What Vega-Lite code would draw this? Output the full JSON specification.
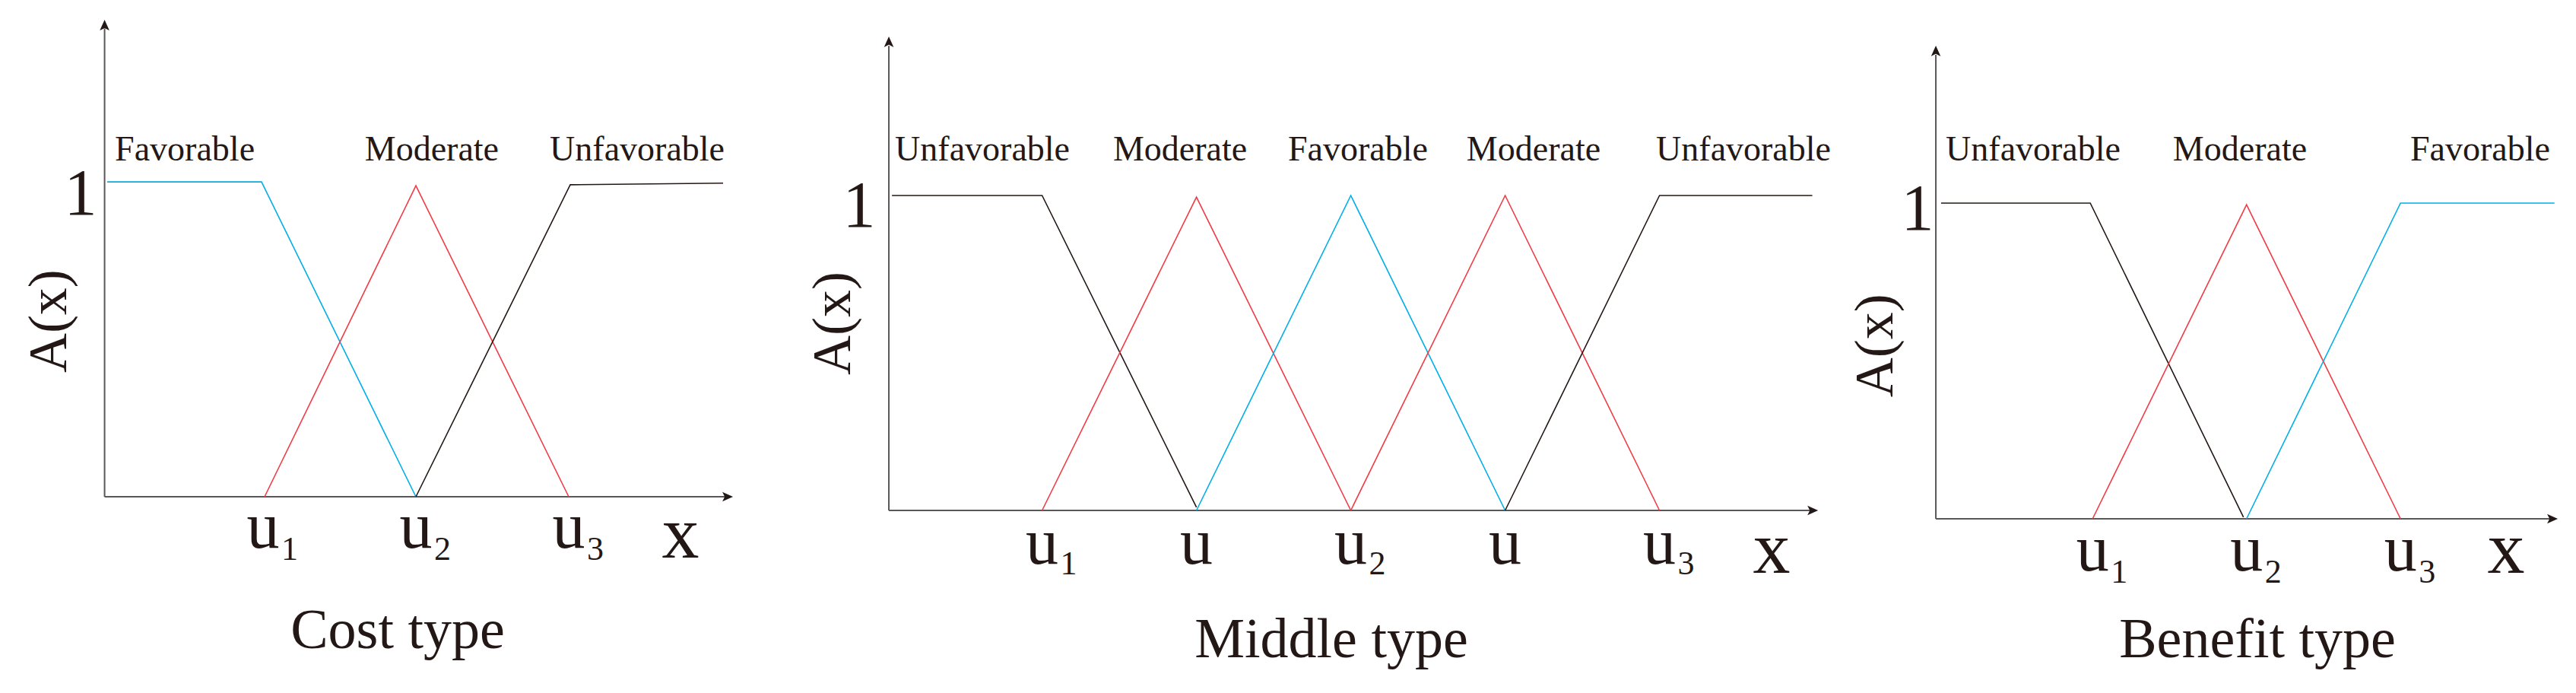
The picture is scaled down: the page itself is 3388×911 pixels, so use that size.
{
  "$schema": "https://vega.github.io/schema/vega-lite/v6.json",
  "padding": 0,
  "spacing": 0,
  "bounds": "flush",
  "background": "white",
  "config": {"view": {"stroke": null}},
  "resolve": {"scale": {"x": "independent", "y": "independent"}},
  "datasets": {
    "ln1": [
      {"id": "f", "type": "Favorable", "k": 1, "x": -0.02, "y": 1.002},
      {"id": "f", "type": "Favorable", "k": 2, "x": 0.99, "y": 1.002},
      {"id": "f", "type": "Favorable", "k": 3, "x": 2.0, "y": 0},
      {"id": "m", "type": "Moderate", "k": 1, "x": 1.01, "y": 0},
      {"id": "m", "type": "Moderate", "k": 2, "x": 2.0, "y": 0.99},
      {"id": "m", "type": "Moderate", "k": 3, "x": 3.0, "y": 0},
      {"id": "u", "type": "Unfavorable", "k": 1, "x": 2.0, "y": 0},
      {"id": "u", "type": "Unfavorable", "k": 2, "x": 3.01, "y": 0.993},
      {"id": "u", "type": "Unfavorable", "k": 3, "x": 4.01, "y": 0.998}
    ],
    "ax1": [
      {"x": -0.037, "y": 0, "x2": -0.037, "y2": 1.49},
      {"x": -0.037, "y": 0, "x2": 4.03, "y2": 0}
    ],
    "ar1": [
      {"dir": "up", "x": -0.037, "y": 1.501},
      {"dir": "right", "x": 4.04, "y": 0}
    ],
    "tx1": [
      {"role": "label", "text": "Favorable", "x": 0.488, "y": 1.07},
      {"role": "label", "text": "Moderate", "x": 2.104, "y": 1.07},
      {"role": "label", "text": "Unfavorable", "x": 3.448, "y": 1.07},
      {"role": "one", "text": "1", "x": -0.194, "y": 0.898},
      {"role": "ylab", "text": "A(x)", "x": -0.398, "y": 0.559},
      {"role": "u", "text": "u", "x": 1, "y": -0.162},
      {"role": "u", "text": "u", "x": 2, "y": -0.162},
      {"role": "u", "text": "u", "x": 3, "y": -0.162},
      {"role": "sub", "text": "1", "x": 1, "y": -0.201},
      {"role": "sub", "text": "2", "x": 2, "y": -0.201},
      {"role": "sub", "text": "3", "x": 3, "y": -0.201},
      {"role": "var", "text": "x", "x": 3.731, "y": -0.194},
      {"role": "title", "text": "Cost type", "x": 1.881, "y": -0.482}
    ],
    "ln2": [
      {"id": "u1", "type": "Unfavorable", "k": 1, "x": 0.027, "y": 1.0},
      {"id": "u1", "type": "Unfavorable", "k": 2, "x": 1.0, "y": 1.0},
      {"id": "u1", "type": "Unfavorable", "k": 3, "x": 2.0, "y": 0.01},
      {"id": "m1", "type": "Moderate", "k": 1, "x": 1.0, "y": 0},
      {"id": "m1", "type": "Moderate", "k": 2, "x": 2.0, "y": 0.995},
      {"id": "m1", "type": "Moderate", "k": 3, "x": 3.0, "y": 0},
      {"id": "f", "type": "Favorable", "k": 1, "x": 2.0, "y": 0},
      {"id": "f", "type": "Favorable", "k": 2, "x": 3.0, "y": 1.0},
      {"id": "f", "type": "Favorable", "k": 3, "x": 4.0, "y": 0},
      {"id": "m2", "type": "Moderate", "k": 1, "x": 3.0, "y": 0},
      {"id": "m2", "type": "Moderate", "k": 2, "x": 4.0, "y": 1.0},
      {"id": "m2", "type": "Moderate", "k": 3, "x": 5.0, "y": 0},
      {"id": "u2", "type": "Unfavorable", "k": 1, "x": 4.0, "y": 0},
      {"id": "u2", "type": "Unfavorable", "k": 2, "x": 5.0, "y": 1.0},
      {"id": "u2", "type": "Unfavorable", "k": 3, "x": 5.99, "y": 1.0}
    ],
    "ax2": [
      {"x": 0.007, "y": 0, "x2": 0.007, "y2": 1.475},
      {"x": 0.007, "y": 0, "x2": 5.98, "y2": 0}
    ],
    "ar2": [
      {"dir": "up", "x": 0.007, "y": 1.488},
      {"dir": "right", "x": 5.993, "y": 0}
    ],
    "tx2": [
      {"role": "label", "text": "Unfavorable", "x": 0.613, "y": 1.111},
      {"role": "label", "text": "Moderate", "x": 1.894, "y": 1.111},
      {"role": "label", "text": "Favorable", "x": 3.046, "y": 1.111},
      {"role": "label", "text": "Moderate", "x": 4.184, "y": 1.111},
      {"role": "label", "text": "Unfavorable", "x": 5.544, "y": 1.111},
      {"role": "one", "text": "1", "x": -0.185, "y": 0.901},
      {"role": "ylab", "text": "A(x)", "x": -0.353, "y": 0.594},
      {"role": "u", "text": "u", "x": 1, "y": -0.169},
      {"role": "u", "text": "u", "x": 2, "y": -0.169},
      {"role": "u", "text": "u", "x": 3, "y": -0.169},
      {"role": "u", "text": "u", "x": 4, "y": -0.169},
      {"role": "u", "text": "u", "x": 5, "y": -0.169},
      {"role": "sub", "text": "1", "x": 1, "y": -0.203},
      {"role": "sub", "text": "2", "x": 3, "y": -0.203},
      {"role": "sub", "text": "3", "x": 5, "y": -0.203},
      {"role": "var", "text": "x", "x": 5.726, "y": -0.198},
      {"role": "title", "text": "Middle type", "x": 2.874, "y": -0.466}
    ],
    "ln3": [
      {"id": "u", "type": "Unfavorable", "k": 1, "x": 0.016, "y": 1.0},
      {"id": "u", "type": "Unfavorable", "k": 2, "x": 0.985, "y": 1.0},
      {"id": "u", "type": "Unfavorable", "k": 3, "x": 1.98, "y": 0.005},
      {"id": "m", "type": "Moderate", "k": 1, "x": 1.0, "y": 0},
      {"id": "m", "type": "Moderate", "k": 2, "x": 2.0, "y": 0.995},
      {"id": "m", "type": "Moderate", "k": 3, "x": 3.0, "y": 0},
      {"id": "f", "type": "Favorable", "k": 1, "x": 2.0, "y": 0},
      {"id": "f", "type": "Favorable", "k": 2, "x": 3.0, "y": 1.0},
      {"id": "f", "type": "Favorable", "k": 3, "x": 4.0, "y": 1.0}
    ],
    "ax3": [
      {"x": -0.018, "y": 0, "x2": -0.018, "y2": 1.47},
      {"x": -0.018, "y": 0, "x2": 3.975, "y2": 0}
    ],
    "ar3": [
      {"dir": "up", "x": -0.018, "y": 1.482},
      {"dir": "right", "x": 3.987, "y": 0}
    ],
    "tx3": [
      {"role": "label", "text": "Unfavorable", "x": 0.614, "y": 1.135},
      {"role": "label", "text": "Moderate", "x": 1.957, "y": 1.135},
      {"role": "label", "text": "Favorable", "x": 3.517, "y": 1.135},
      {"role": "one", "text": "1", "x": -0.137, "y": 0.916},
      {"role": "ylab", "text": "A(x)", "x": -0.408, "y": 0.549},
      {"role": "u", "text": "u", "x": 1, "y": -0.164},
      {"role": "u", "text": "u", "x": 2, "y": -0.164},
      {"role": "u", "text": "u", "x": 3, "y": -0.164},
      {"role": "sub", "text": "1", "x": 1, "y": -0.202},
      {"role": "sub", "text": "2", "x": 2, "y": -0.202},
      {"role": "sub", "text": "3", "x": 3, "y": -0.202},
      {"role": "var", "text": "x", "x": 3.685, "y": -0.171},
      {"role": "title", "text": "Benefit type", "x": 2.071, "y": -0.439}
    ]
  },
  "hconcat": [
    {
      "width": 1010,
      "height": 911,
      "encoding": {
        "x": {"field": "x", "type": "quantitative", "scale": {"domain": [-0.7214, 4.3035], "nice": false, "zero": false}, "axis": null},
        "y": {"field": "y", "type": "quantitative", "scale": {"domain": [-0.6247, 1.5811], "nice": false, "zero": false}, "axis": null}
      },
      "layer": [
        {"data": {"name": "ax1"}, "mark": {"type": "rule", "color": "#595757", "strokeWidth": 2}, "encoding": {"x2": {"field": "x2"}, "y2": {"field": "y2"}}},
        {"data": {"name": "ar1"}, "mark": {"type": "point", "filled": true, "opacity": 1, "color": "#231815", "size": 196, "strokeWidth": 0},
         "encoding": {"shape": {"field": "dir", "type": "nominal", "scale": {"domain": ["up", "right"], "range": ["M0,-1L0.9,1L0,0.55L-0.9,1Z", "M1,0L-1,0.9L-0.55,0L-1,-0.9Z"]}, "legend": null}}},
        {"data": {"name": "ln1"}, "mark": {"type": "line", "strokeWidth": 1.6},
         "encoding": {"detail": {"field": "id"}, "order": {"field": "k", "type": "quantitative"},
                      "color": {"field": "type", "type": "nominal", "scale": {"domain": ["Favorable", "Moderate", "Unfavorable"], "range": ["#00aee8", "#f03c46", "#231815"]}, "legend": null}}},
        {"data": {"name": "tx1"}, "transform": [{"filter": "datum.role === 'label'"}], "mark": {"type": "text", "font": "Liberation Serif", "fontSize": 46, "color": "#231815", "align": "center", "baseline": "alphabetic"}, "encoding": {"text": {"field": "text"}}},
        {"data": {"name": "tx1"}, "transform": [{"filter": "datum.role === 'one'"}], "mark": {"type": "text", "font": "Liberation Serif", "fontSize": 86, "color": "#231815", "align": "center", "baseline": "alphabetic"}, "encoding": {"text": {"field": "text"}}},
        {"data": {"name": "tx1"}, "transform": [{"filter": "datum.role === 'ylab'"}], "mark": {"type": "text", "font": "Liberation Serif", "fontSize": 72, "color": "#231815", "align": "center", "baseline": "middle", "angle": 270}, "encoding": {"text": {"field": "text"}}},
        {"data": {"name": "tx1"}, "transform": [{"filter": "datum.role === 'u'"}], "mark": {"type": "text", "font": "Liberation Serif", "fontSize": 86, "color": "#231815", "align": "center", "baseline": "alphabetic"}, "encoding": {"text": {"field": "text"}}},
        {"data": {"name": "tx1"}, "transform": [{"filter": "datum.role === 'sub'"}], "mark": {"type": "text", "font": "Liberation Serif", "fontSize": 44, "color": "#231815", "align": "center", "baseline": "alphabetic", "dx": 35}, "encoding": {"text": {"field": "text"}}},
        {"data": {"name": "tx1"}, "transform": [{"filter": "datum.role === 'var'"}], "mark": {"type": "text", "font": "Liberation Serif", "fontSize": 98, "color": "#231815", "align": "center", "baseline": "alphabetic"}, "encoding": {"text": {"field": "text"}}},
        {"data": {"name": "tx1"}, "transform": [{"filter": "datum.role === 'title'"}], "mark": {"type": "text", "font": "Liberation Serif", "fontSize": 74, "color": "#231815", "align": "center", "baseline": "alphabetic"}, "encoding": {"text": {"field": "text"}}}
      ]
    },
    {
      "width": 1410,
      "height": 911,
      "encoding": {
        "x": {"field": "x", "type": "quantitative", "scale": {"domain": [-0.7764, 6.1695], "nice": false, "zero": false}, "axis": null},
        "y": {"field": "y", "type": "quantitative", "scale": {"domain": [-0.5797, 1.6208], "nice": false, "zero": false}, "axis": null}
      },
      "layer": [
        {"data": {"name": "ax2"}, "mark": {"type": "rule", "color": "#595757", "strokeWidth": 2}, "encoding": {"x2": {"field": "x2"}, "y2": {"field": "y2"}}},
        {"data": {"name": "ar2"}, "mark": {"type": "point", "filled": true, "opacity": 1, "color": "#231815", "size": 196, "strokeWidth": 0},
         "encoding": {"shape": {"field": "dir", "type": "nominal", "scale": {"domain": ["up", "right"], "range": ["M0,-1L0.9,1L0,0.55L-0.9,1Z", "M1,0L-1,0.9L-0.55,0L-1,-0.9Z"]}, "legend": null}}},
        {"data": {"name": "ln2"}, "mark": {"type": "line", "strokeWidth": 1.6},
         "encoding": {"detail": {"field": "id"}, "order": {"field": "k", "type": "quantitative"},
                      "color": {"field": "type", "type": "nominal", "scale": {"domain": ["Favorable", "Moderate", "Unfavorable"], "range": ["#00aee8", "#f03c46", "#231815"]}, "legend": null}}},
        {"data": {"name": "tx2"}, "transform": [{"filter": "datum.role === 'label'"}], "mark": {"type": "text", "font": "Liberation Serif", "fontSize": 46, "color": "#231815", "align": "center", "baseline": "alphabetic"}, "encoding": {"text": {"field": "text"}}},
        {"data": {"name": "tx2"}, "transform": [{"filter": "datum.role === 'one'"}], "mark": {"type": "text", "font": "Liberation Serif", "fontSize": 86, "color": "#231815", "align": "center", "baseline": "alphabetic"}, "encoding": {"text": {"field": "text"}}},
        {"data": {"name": "tx2"}, "transform": [{"filter": "datum.role === 'ylab'"}], "mark": {"type": "text", "font": "Liberation Serif", "fontSize": 72, "color": "#231815", "align": "center", "baseline": "middle", "angle": 270}, "encoding": {"text": {"field": "text"}}},
        {"data": {"name": "tx2"}, "transform": [{"filter": "datum.role === 'u'"}], "mark": {"type": "text", "font": "Liberation Serif", "fontSize": 86, "color": "#231815", "align": "center", "baseline": "alphabetic"}, "encoding": {"text": {"field": "text"}}},
        {"data": {"name": "tx2"}, "transform": [{"filter": "datum.role === 'sub'"}], "mark": {"type": "text", "font": "Liberation Serif", "fontSize": 44, "color": "#231815", "align": "center", "baseline": "alphabetic", "dx": 35}, "encoding": {"text": {"field": "text"}}},
        {"data": {"name": "tx2"}, "transform": [{"filter": "datum.role === 'var'"}], "mark": {"type": "text", "font": "Liberation Serif", "fontSize": 98, "color": "#231815", "align": "center", "baseline": "alphabetic"}, "encoding": {"text": {"field": "text"}}},
        {"data": {"name": "tx2"}, "transform": [{"filter": "datum.role === 'title'"}], "mark": {"type": "text", "font": "Liberation Serif", "fontSize": 74, "color": "#231815", "align": "center", "baseline": "alphabetic"}, "encoding": {"text": {"field": "text"}}}
      ]
    },
    {
      "width": 968,
      "height": 911,
      "encoding": {
        "x": {"field": "x", "type": "quantitative", "scale": {"domain": [-0.6405, 4.1398], "nice": false, "zero": false}, "axis": null},
        "y": {"field": "y", "type": "quantitative", "scale": {"domain": [-0.5518, 1.6434], "nice": false, "zero": false}, "axis": null}
      },
      "layer": [
        {"data": {"name": "ax3"}, "mark": {"type": "rule", "color": "#595757", "strokeWidth": 2}, "encoding": {"x2": {"field": "x2"}, "y2": {"field": "y2"}}},
        {"data": {"name": "ar3"}, "mark": {"type": "point", "filled": true, "opacity": 1, "color": "#231815", "size": 196, "strokeWidth": 0},
         "encoding": {"shape": {"field": "dir", "type": "nominal", "scale": {"domain": ["up", "right"], "range": ["M0,-1L0.9,1L0,0.55L-0.9,1Z", "M1,0L-1,0.9L-0.55,0L-1,-0.9Z"]}, "legend": null}}},
        {"data": {"name": "ln3"}, "mark": {"type": "line", "strokeWidth": 1.6},
         "encoding": {"detail": {"field": "id"}, "order": {"field": "k", "type": "quantitative"},
                      "color": {"field": "type", "type": "nominal", "scale": {"domain": ["Favorable", "Moderate", "Unfavorable"], "range": ["#00aee8", "#f03c46", "#231815"]}, "legend": null}}},
        {"data": {"name": "tx3"}, "transform": [{"filter": "datum.role === 'label'"}], "mark": {"type": "text", "font": "Liberation Serif", "fontSize": 46, "color": "#231815", "align": "center", "baseline": "alphabetic"}, "encoding": {"text": {"field": "text"}}},
        {"data": {"name": "tx3"}, "transform": [{"filter": "datum.role === 'one'"}], "mark": {"type": "text", "font": "Liberation Serif", "fontSize": 86, "color": "#231815", "align": "center", "baseline": "alphabetic"}, "encoding": {"text": {"field": "text"}}},
        {"data": {"name": "tx3"}, "transform": [{"filter": "datum.role === 'ylab'"}], "mark": {"type": "text", "font": "Liberation Serif", "fontSize": 72, "color": "#231815", "align": "center", "baseline": "middle", "angle": 270}, "encoding": {"text": {"field": "text"}}},
        {"data": {"name": "tx3"}, "transform": [{"filter": "datum.role === 'u'"}], "mark": {"type": "text", "font": "Liberation Serif", "fontSize": 86, "color": "#231815", "align": "center", "baseline": "alphabetic"}, "encoding": {"text": {"field": "text"}}},
        {"data": {"name": "tx3"}, "transform": [{"filter": "datum.role === 'sub'"}], "mark": {"type": "text", "font": "Liberation Serif", "fontSize": 44, "color": "#231815", "align": "center", "baseline": "alphabetic", "dx": 35}, "encoding": {"text": {"field": "text"}}},
        {"data": {"name": "tx3"}, "transform": [{"filter": "datum.role === 'var'"}], "mark": {"type": "text", "font": "Liberation Serif", "fontSize": 98, "color": "#231815", "align": "center", "baseline": "alphabetic"}, "encoding": {"text": {"field": "text"}}},
        {"data": {"name": "tx3"}, "transform": [{"filter": "datum.role === 'title'"}], "mark": {"type": "text", "font": "Liberation Serif", "fontSize": 74, "color": "#231815", "align": "center", "baseline": "alphabetic"}, "encoding": {"text": {"field": "text"}}}
      ]
    }
  ]
}
